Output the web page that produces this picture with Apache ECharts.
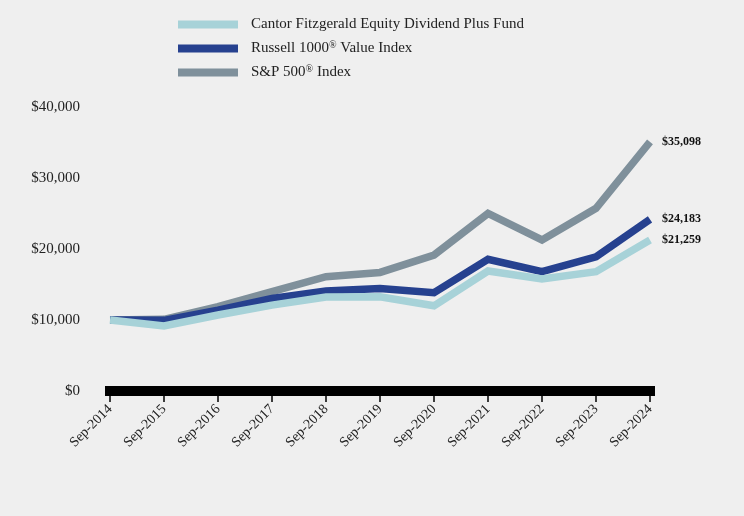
<!DOCTYPE html>
<html>
<head>
<meta charset="utf-8">
<script src="https://cdn.jsdelivr.net/npm/echarts@6/dist/echarts.min.js"></script>
<style>
html,body{margin:0;padding:0;background:#efefef;}
#chart{width:744px;height:516px;}
</style>
</head>
<body>
<div id="chart"></div>
<script>
var categories = ['Sep-2014','Sep-2015','Sep-2016','Sep-2017','Sep-2018','Sep-2019','Sep-2020','Sep-2021','Sep-2022','Sep-2023','Sep-2024'];
var fundValues = [10000, 9150, 10700, 12100, 13250, 13280, 12000, 16900, 15770, 16800, 21259];
var russellValues = [10000, 9950, 11400, 13050, 14100, 14450, 13850, 18550, 16800, 18900, 24183];
var spValues = [10000, 10100, 11870, 14000, 16100, 16700, 19150, 25000, 21270, 25730, 35098];
var seriesNames = ['Cantor Fitzgerald Equity Dividend Plus Fund', 'Russell 1000® Value Index', 'S&P 500® Index'];
var yTicks = [0, 10000, 20000, 30000, 40000];

var FONT = '"Liberation Serif", "Times New Roman", serif';
function money(v){ return '$' + v.toString().replace(/\B(?=(\d{3})+(?!\d))/g, ','); }

var chart = echarts.init(document.getElementById('chart'), null, {renderer:'canvas'});
function mk(name, data, color){
  return {
    name: name, type: 'line', data: data, symbol: 'none',
    lineStyle: {width: 7.5, color: color, join: 'miter'},
    itemStyle: {color: color},
    endLabel: {show: true, formatter: function(p){ return money(p.value); },
      fontFamily: FONT, fontWeight: 'bold', fontSize: 12, color: '#111', distance: 12},
    emphasis: {disabled: true},
    animation: false
  };
}
chart.setOption({
  backgroundColor: '#efefef',
  animation: false,
  legend: {
    orient: 'vertical', left: 173, top: 12, itemWidth: 60, itemHeight: 8, itemGap: 8.5,
    icon: 'rect',
    data: [seriesNames[0], seriesNames[1], seriesNames[2]],
    formatter: function(n){ return n.replace('®', '{sup|®}'); },
    textStyle: {fontFamily: FONT, fontSize: 15, color: '#222', padding: [0,0,0,8],
      rich: {sup: {fontFamily: FONT, fontSize: 10, color: '#222', verticalAlign: 'top', padding: [0,0,6,0]}}}
  },
  grid: {left: 110, right: 94, top: 107, bottom: 125},
  xAxis: {
    type: 'category', data: categories, boundaryGap: false,
    axisLine: {show: true, lineStyle: {color: '#000', width: 10, cap: 'square'}},
    axisTick: {show: true, alignWithLabel: true, length: 11, lineStyle: {color: '#000', width: 1.5}},
    axisLabel: {rotate: 45, margin: 16, fontFamily: FONT, fontSize: 14, color: '#222', interval: 0},
    splitLine: {show: false}
  },
  yAxis: {
    type: 'value', min: yTicks[0], max: yTicks[yTicks.length-1], interval: 10000,
    axisLine: {show: false}, axisTick: {show: false}, splitLine: {show: false},
    axisLabel: {margin: 30, fontFamily: FONT, fontSize: 15, color: '#222', formatter: function(v){ return money(v); }}
  },
  series: [
    mk(seriesNames[2], spValues, '#7f909b'),
    mk(seriesNames[1], russellValues, '#26418f'),
    mk(seriesNames[0], fundValues, '#a7d2d8')
  ]
});
</script>
</body>
</html>
